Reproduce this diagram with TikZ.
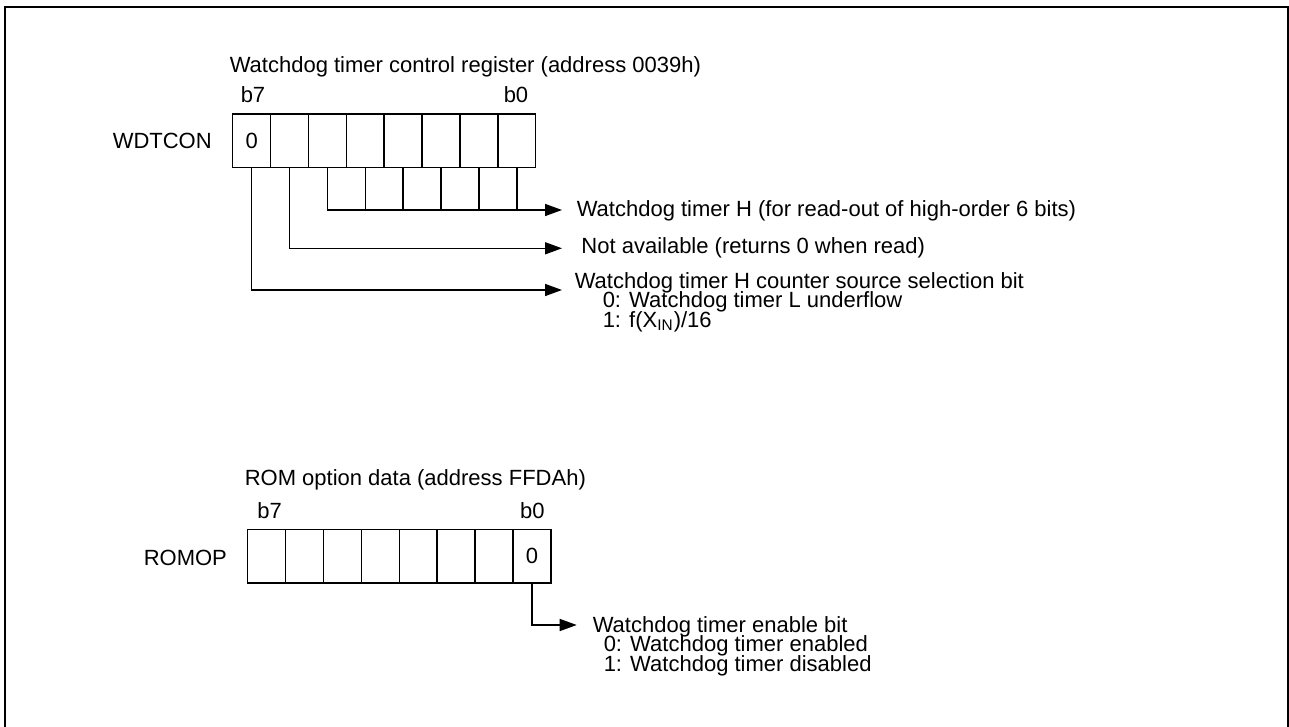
\documentclass[tikz,border=0pt]{standalone}
\usepackage{fontspec}
\setmainfont{Liberation Sans}
\usetikzlibrary{arrows.meta}
\newcommand\tightlines{\lineskiplimit=-100pt\relax}
\begin{document}
\begin{tikzpicture}[x=0.5pt, y=-0.5pt, line width=0.75pt,
  cell/.style = {draw, rectangle, minimum width=18.95pt, minimum height=26.6pt, inner sep=0pt, outer sep=0pt},
  txt/.style = {inner sep=0pt, anchor=base west, font=\fontsize{11}{9.6}\selectfont\tightlines},
  lst/.style = {txt, align=left},
  arr/.style = {-{Triangle[length=8.5pt, width=6pt]}}]
\useasboundingbox (0,0) rectangle (1289,727);
\draw[line width=0.85pt] (5,7) rectangle (1288,745);

% WDTCON register
\node[txt] (wdttitle) at (229,73) {Watchdog timer control register (address 0039h)};
\node[txt] (wdtb7) at (240,102.7) {b7};
\node[txt] (wdtb0) at (503,102.7) {b0};
\node[txt] (wdtname) at (112,148.3) {WDTCON};
\foreach \b in {7,...,0}
  \node[cell] (wdt\b) at ({232.7+(7.5-\b)*37.875}, 140.7) {};
\node[txt, anchor=center] (wdtzero) at (wdt7) {0};

\coordinate (eH) at (562,210);
\coordinate (e6) at (562,248.3);
\coordinate (e7) at (562,290);
\foreach \b in {4,...,0}
  \draw (wdt\b.south) -- (wdt\b.south |- eH);
\draw[arr] (wdt5.south) |- (eH);
\draw[arr] (wdt6.south) |- (e6);
\draw[arr] (wdt7.south) |- (e7);

\node[txt] (wdttH) at (576,216.7) {Watchdog timer H (for read-out of high-order 6 bits)};
\node[txt] (wdtna) at (580.7,253.3) {Not available (returns 0 when read)};
% base of a multi-line node is its last line
\node[lst] (wdtsel) at (574,327) {Watchdog timer H counter source selection bit\\
  \hspace*{14pt}0: Watchdog timer L underflow\\
  \hspace*{14pt}1: f(X\textsubscript{IN})/16};

% ROMOP
\node[txt] (romtitle) at (244,485) {ROM option data (address FFDAh)};
\node[txt] (romb7) at (256.7,518.3) {b7};
\node[txt] (romb0) at (519.3,518.3) {b0};
\node[txt] (romname) at (143,565) {ROMOP};
\foreach \b in {7,...,0}
  \node[cell] (rom\b) at ({247.7+(7.5-\b)*37.9}, 556.3) {};
\node[txt, anchor=center] (romzero) at (rom0) {0};

\coordinate (e0) at (576.7,625);
\draw[arr] (rom0.south) |- (e0);
\node[lst] (romen) at (592,671) {Watchdog timer enable bit\\
  \hspace*{5.5pt}0: Watchdog timer enabled\\
  \hspace*{5.5pt}1: Watchdog timer disabled};
\end{tikzpicture}
\end{document}
